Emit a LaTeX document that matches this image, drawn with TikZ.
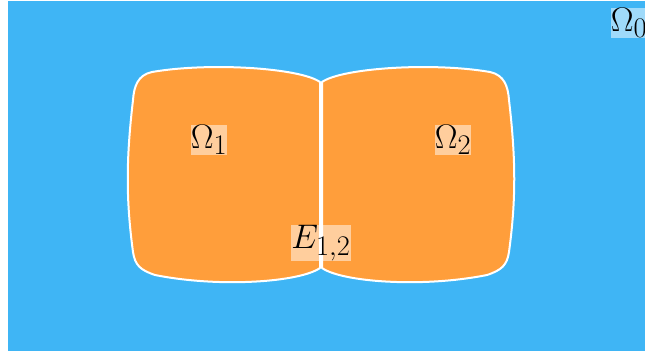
\documentclass[tikz,border=0pt]{standalone}
\newcommand{\biglab}[1]{\scalebox{1.37}{\Huge$#1$}}
\begin{document}
\begin{tikzpicture}[x=1pt,y=-1pt,
  cell/.style={fill=cellorange,draw=white,line width=2pt,line join=round},
  olab/.style={inner sep=0pt,fill=white,fill opacity=0.5,text opacity=1},
]
\definecolor{bgblue}{RGB}{63,181,245}
\definecolor{cellorange}{RGB}{255,158,59}
\useasboundingbox (0,0) rectangle (645,356);
\clip (0,0) rectangle (645,356);
\fill[bgblue] (8,1) rectangle (645,351);
% left cell
\path[cell] (320,82) .. controls (300,68) and (210,62) .. (152,72)
  .. controls (138,75) and (134,86) .. (133,100)
  .. controls (126,160) and (126,200) .. (133,252)
  .. controls (135,265) and (140,270) .. (155,275)
  .. controls (220,288) and (300,282) .. (320,268) -- cycle;
% right cell
\path[cell] (322,82) .. controls (342,68) and (432,62) .. (490,72)
  .. controls (504,75) and (508,86) .. (509,100)
  .. controls (516,160) and (516,200) .. (509,252)
  .. controls (507,265) and (502,270) .. (487,275)
  .. controls (422,288) and (342,282) .. (322,268) -- cycle;
\node[olab] (o1) at (209,140) {\biglab{\Omega_1}};
\node[olab] (o2) at (453,140) {\biglab{\Omega_2}};
\node[olab] (e12) at (321,243) {\biglab{E_{1,2}}};
\node[olab] (o0) at (629,23) {\biglab{\Omega_0}};
\end{tikzpicture}
\end{document}
